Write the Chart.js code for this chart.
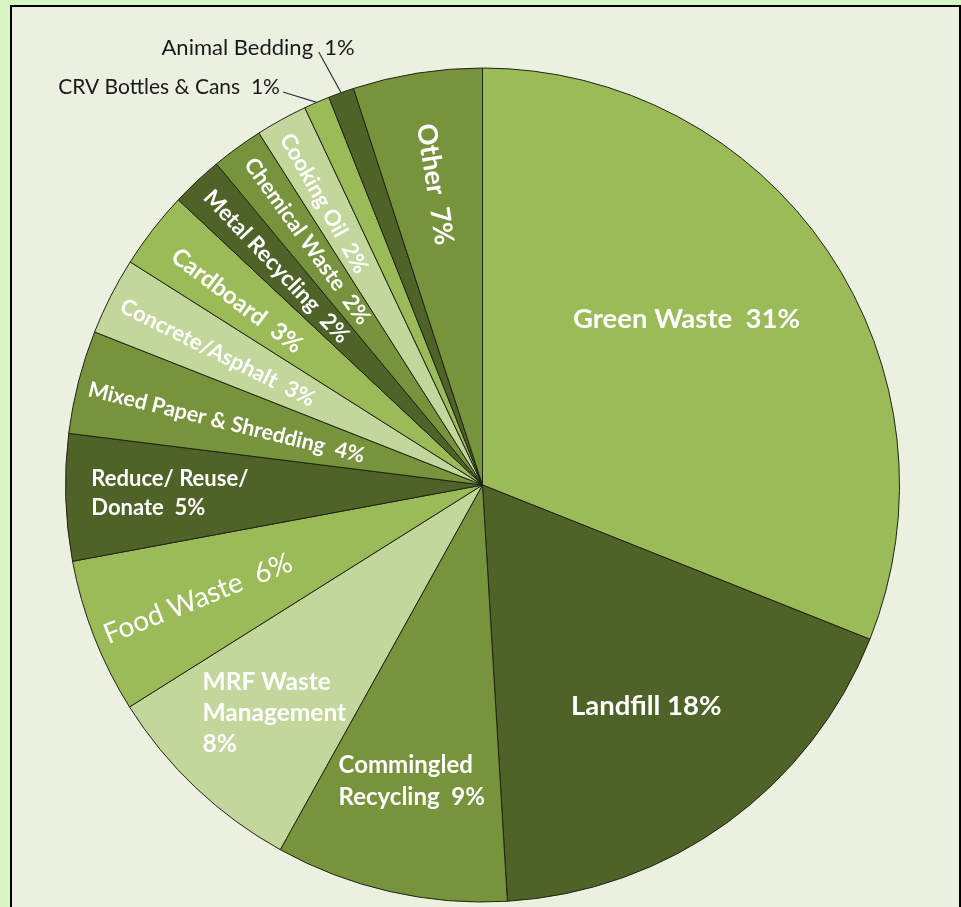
<!DOCTYPE html>
<html>
<head>
<meta charset="utf-8">
<script src="https://cdn.jsdelivr.net/npm/chart.js@4.4.1/dist/chart.umd.min.js"></script>
<style>
  html, body { margin: 0; padding: 0; }
  body { width: 961px; height: 907px; overflow: hidden; background: #d8f5c2; position: relative; }
  .frame { position: absolute; left: 10px; top: 5px; width: 947px; height: 930px; border: 2px solid #000; background: #ebf0e0; }
  #wasteChart { position: absolute; left: 0; top: 0; }
</style>
</head>
<body>
<div class="frame"></div>
<canvas id="wasteChart" width="961" height="907"></canvas>
<script>
// slice order runs clockwise from 12 o'clock
const categories = ['Green Waste', 'Landfill', 'Commingled Recycling', 'MRF Waste Management', 'Food Waste',
  'Reduce/ Reuse/ Donate', 'Mixed Paper & Shredding', 'Concrete/Asphalt', 'Cardboard', 'Metal Recycling',
  'Chemical Waste', 'Cooking Oil', 'CRV Bottles & Cans', 'Animal Bedding', 'Other'];
// share of the circle as drawn
const shares = [31, 18, 9, 8, 6, 4.9, 4, 3, 3, 2, 2, 2, 1, 1, 5];
// percentages as printed on the labels
const percentLabels = ['31%', '18%', '9%', '8%', '6%', '5%', '4%', '3%', '3%', '2%', '2%', '2%', '1%', '1%', '7%'];

const LIGHT = '#9bbb59', DARK = '#4f6228', MID = '#77933c', PALE = '#c3d69b';
const sliceColors = [LIGHT, DARK, MID, PALE, LIGHT, DARK, MID, PALE, LIGHT, DARK, MID, PALE, LIGHT, DARK, MID];

// how each label sits in its slice: at = fraction across the slice, r = fraction of radius
// breaks = word indexes after which the label wraps
const labelStyles = [
  { at: 0.456, r: 0.63, size: 27.5, bold: true, sep: '  ' },
  { at: 0.49, r: 0.66, size: 27.5, bold: true, sep: ' ' },
  { at: 0.52, r: 0.73, size: 24, bold: true, sep: '  ', breaks: [0], left: true, lh: 32 },
  { at: 0.465, r: 0.74, size: 24.5, bold: true, sep: '\n', breaks: [1], left: true, lh: 31 },
  { at: 0.48, r: 0.735, size: 28, bold: false, sep: '  ', rotate: true },
  { at: 0.51, r: 0.75, size: 22, bold: true, sep: '  ', breaks: [1], left: true, lh: 29 },
  { at: 0.455, r: 0.632, size: 21.5, bold: true, sep: '  ', rotate: true },
  { at: 0.46, r: 0.71, size: 22, bold: true, sep: '  ', rotate: true },
  { at: 0.42, r: 0.736, size: 24, bold: true, sep: '  ', rotate: true },
  { at: 0.49, r: 0.72, size: 22.5, bold: true, sep: '  ', rotate: true },
  { at: 0.54, r: 0.72, size: 22, bold: true, sep: '  ', rotate: true },
  { at: 0.42, r: 0.775, size: 22, bold: true, sep: '  ', rotate: true },
  { leader: true, da: -3.5, r: 1.057, dx: -3, dy: -5, size: 21, bold: false, sep: '  ' },
  { leader: true, da: -0.9, r: 1.11, dx: 36, dy: -4.5, size: 22, bold: false, sep: '  ' },
  { at: 0.5, r: 0.73, size: 27, bold: true, sep: '  ', rotate: true }
];

function labelLines(i) {
  const st = labelStyles[i];
  const words = categories[i].split(' ');
  const lines = [];
  let cur = [];
  words.forEach((w, k) => {
    cur.push(w);
    if (st.breaks && st.breaks.includes(k)) { lines.push(cur.join(' ')); cur = []; }
  });
  if (st.sep === '\n') {
    lines.push(cur.join(' '));
    lines.push(percentLabels[i]);
  } else {
    lines.push(cur.join(' ') + st.sep + percentLabels[i]);
  }
  return lines;
}

const sliceLabels = {
  id: 'sliceLabels',
  afterDatasetsDraw(chart) {
    const ctx = chart.ctx;
    const arcs = chart.getDatasetMeta(0).data;
    arcs.forEach((arc, i) => {
      const st = labelStyles[i];
      const p = arc.getProps(['x', 'y', 'startAngle', 'endAngle', 'outerRadius'], true);
      const lines = labelLines(i);
      ctx.save();
      ctx.font = (st.bold ? 'bold ' : '') + st.size + 'px Lato, "Open Sans", sans-serif';
      ctx.textBaseline = 'middle';
      if (st.leader) {
        const mid = (p.startAngle + p.endAngle) / 2;
        const a2 = mid + st.da * Math.PI / 180;
        const x1 = p.x + p.outerRadius * Math.cos(mid), y1 = p.y + p.outerRadius * Math.sin(mid);
        const x2 = p.x + p.outerRadius * st.r * Math.cos(a2), y2 = p.y + p.outerRadius * st.r * Math.sin(a2);
        ctx.strokeStyle = '#333';
        ctx.lineWidth = 1.2;
        ctx.beginPath();
        ctx.moveTo(x1, y1);
        ctx.lineTo(x2, y2);
        ctx.stroke();
        ctx.fillStyle = '#1a1a1a';
        ctx.textAlign = 'right';
        ctx.fillText(lines[0], x2 + st.dx, y2 + st.dy);
        ctx.restore();
        return;
      }
      const a = p.startAngle + (p.endAngle - p.startAngle) * st.at;
      const cx = p.x + p.outerRadius * st.r * Math.cos(a);
      const cy = p.y + p.outerRadius * st.r * Math.sin(a);
      ctx.fillStyle = '#ffffff';
      if (st.rotate) {
        ctx.translate(cx, cy);
        ctx.rotate(a + Math.PI);
        ctx.textAlign = 'center';
        ctx.fillText(lines[0], 0, 0);
      } else if (st.left) {
        const w = Math.max(...lines.map(l => ctx.measureText(l).width));
        const top = cy - (lines.length - 1) * st.lh / 2;
        ctx.textAlign = 'left';
        lines.forEach((l, k) => ctx.fillText(l, cx - w / 2, top + k * st.lh));
      } else {
        ctx.textAlign = 'center';
        ctx.fillText(lines[0], cx, cy);
      }
      ctx.restore();
    });
  }
};

new Chart(document.getElementById('wasteChart'), {
  type: 'pie',
  data: {
    labels: categories,
    datasets: [{
      data: shares,
      backgroundColor: sliceColors,
      borderColor: '#1e2414',
      borderWidth: 1,
      hoverOffset: 0
    }]
  },
  options: {
    responsive: false,
    animation: false,
    layout: { padding: { left: 65, top: 67, right: 61, bottom: 4 } },
    plugins: {
      legend: { display: false },
      tooltip: { enabled: false }
    }
  },
  plugins: [sliceLabels]
});
</script>
</body>
</html>
